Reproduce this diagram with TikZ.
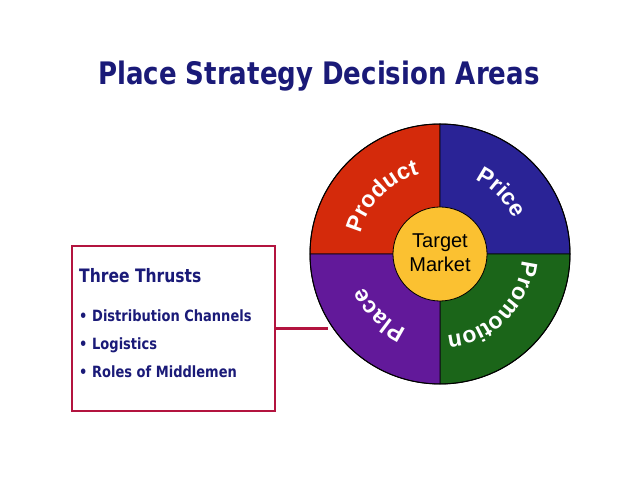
\documentclass[tikz,border=0pt]{standalone}
\usepackage{fontspec}
\setmainfont{Liberation Sans}
\newfontfamily\titlefont[FakeStretch=0.84]{DejaVu Sans}
\usetikzlibrary{decorations.text,calc}
\definecolor{prodred}{HTML}{D42A0B}
\definecolor{priceblue}{HTML}{2A2396}
\definecolor{promgreen}{HTML}{1B6519}
\definecolor{placepurple}{HTML}{62199A}
\definecolor{tmyellow}{HTML}{FBC131}
\definecolor{navy}{HTML}{1A1A78}
\definecolor{boxred}{HTML}{B3143F}
\newcommand\wheelfont{\bfseries\fontsize{23}{23}\selectfont}
\begin{document}
\begin{tikzpicture}[x=1pt,y=1pt,
  sector/.style={draw=black,line width=0.8pt},
  wheeltext/.style={decorate,decoration={text along path,text align=center,text color=white,text={|\wheelfont|#1}}},
  boxtext/.style={anchor=base west,inner sep=0pt,text=navy,font=\titlefont\bfseries\fontsize{15.5}{15.5}\selectfont}]
\useasboundingbox (0,0) rectangle (638,493);
\fill[white] (0,0) rectangle (638,493);
% title
\node[anchor=base west,inner sep=0pt,text=navy,font=\titlefont\bfseries\fontsize{31}{31}\selectfont] (title) at (98,408) {Place Strategy Decision Areas};
% wheel
\coordinate (c) at (440,239);
\fill[prodred,sector] (c) -- ($(c)+(90:130)$) arc[start angle=90,end angle=180,radius=130] -- cycle;
\fill[priceblue,sector] (c) -- ($(c)+(0:130)$) arc[start angle=0,end angle=90,radius=130] -- cycle;
\fill[promgreen,sector] (c) -- ($(c)+(-90:130)$) arc[start angle=-90,end angle=0,radius=130] -- cycle;
\fill[placepurple,sector] (c) -- ($(c)+(180:130)$) arc[start angle=180,end angle=270,radius=130] -- cycle;
\draw[line width=1pt] (c) circle[radius=130];
\path[wheeltext=Product] ($(c)+(180:82)$) arc[start angle=180,end angle=90,radius=82];
\path[wheeltext=Price] ($(c)+(90:82)$) arc[start angle=90,end angle=0,radius=82];
\path[wheeltext=Promotion] ($(c)+(0:82)$) arc[start angle=0,end angle=-90,radius=82];
\path[wheeltext=Place] ($(c)+(-90:82)$) arc[start angle=-90,end angle=-180,radius=82];
\node[circle,fill=tmyellow,draw=black,line width=0.8pt,minimum size=94pt,inner sep=0pt] (tm) at (c) {};
\node[anchor=base,inner sep=0pt,font=\fontsize{20}{20}\selectfont] (tmt) at (440,245) {Target};
\node[anchor=base,inner sep=0pt,font=\fontsize{20}{20}\selectfont] (tmm) at (440,221) {Market};
% box
\node[draw=boxred,line width=2.6pt,minimum width=203pt,minimum height=165pt,anchor=south west,inner sep=0pt,outer sep=0pt] (box) at (72,82) {};
\coordinate (pl) at (328,164.5);
\draw[boxred,line width=2.6pt] (box.east) -- (box.east -| pl);
\node[boxtext,font=\titlefont\bfseries\fontsize{18.5}{18.5}\selectfont] (thr) at (79,210) {Three Thrusts};
\node[boxtext] (b1) at (79,171) {•};
\node[boxtext] (i1) at (92,171) {Distribution Channels};
\node[boxtext] (b2) at (79,143) {•};
\node[boxtext] (i2) at (92,143) {Logistics};
\node[boxtext] (b3) at (79,115) {•};
\node[boxtext] (i3) at (92,115) {Roles of Middlemen};
\end{tikzpicture}
\end{document}
